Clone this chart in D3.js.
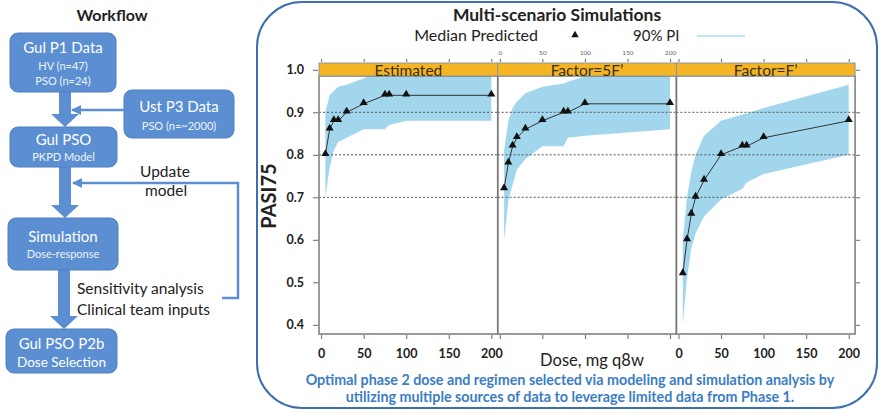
<!DOCTYPE html>
<html>
<head>
<meta charset="utf-8">
<script src="https://cdn.jsdelivr.net/npm/d3@7"></script>
<style>
	body { margin: 0; background: #fff; }
	text { font-family: Lato, "Open Sans", sans-serif; }
</style>
</head>
<body>
<div id="chart"></div>
<script>
// data
const doses = [5, 10, 15, 20, 30, 50, 75, 80, 100, 200];
const panelNames = ["Estimated", "Factor=5F\u2019", "Factor=F\u2019"];

const medEstimated = [0.80, 0.86, 0.88, 0.88, 0.90, 0.92, 0.94, 0.94, 0.94, 0.94];
const loEstimated = [0.70, 0.77, 0.81, 0.83, 0.84, 0.86, 0.86, 0.87, 0.88, 0.88];
const hiEstimated = [0.90, 0.94, 0.95, 0.96, 0.965, 0.98, 1.0, 1.0, 1.0, 1.0];

const med5F = [0.72, 0.78, 0.82, 0.84, 0.86, 0.88, 0.90, 0.90, 0.92, 0.92];
const lo5F = [0.60, 0.69, 0.73, 0.765, 0.79, 0.82, 0.82, 0.84, 0.845, 0.86];
const hi5F = [0.81, 0.88, 0.91, 0.925, 0.945, 0.96, 0.968, 0.972, 0.985, 1.0];

const medF = [0.52, 0.60, 0.66, 0.70, 0.74, 0.80, 0.82, 0.82, 0.84, 0.88];
const loF = [0.40, 0.51, 0.58, 0.615, 0.655, 0.695, 0.72, 0.735, 0.755, 0.80];
const hiF = [0.60, 0.70, 0.76, 0.80, 0.845, 0.88, 0.895, 0.897, 0.91, 0.965];

const yTicks = [0.4, 0.5, 0.6, 0.7, 0.8, 0.9, 1.0];
const xTicks = [0, 50, 100, 150, 200];
const refLines = [0.7, 0.8, 0.9];

const width = 880;
const height = 413;

const svg = d3.select("#chart")
	.append("svg")
	.attr("width", width)
	.attr("height", height);

// ---------- workflow (left) ----------
const boxBlue = "#5b8fd1";
const wf = svg.append("g");

wf.append("text")
	.attr("x", 112).attr("y", 21)
	.attr("text-anchor", "middle")
	.attr("font-size", 16).attr("font-weight", "bold")
	.attr("fill", "#222")
	.text("Workflow");

function box(x, y, w, h, lines) {
	wf.append("rect")
		.attr("x", x).attr("y", y).attr("width", w).attr("height", h)
		.attr("rx", 8)
		.attr("fill", boxBlue)
		.attr("stroke", "#4f7fbf").attr("stroke-width", 1);
	lines.forEach((l) => {
		wf.append("text")
			.attr("x", x + w / 2).attr("y", l.y)
			.attr("text-anchor", "middle")
			.attr("font-size", l.size)
			.attr("fill", l.size > 12 ? "#fff" : "#eef3fb")
			.text(l.t);
	});
}

function blockArrow(cx, y1, y2) {
	const sw = 6, hw = 14, hh = 13;
	const pts = [[cx - sw, y1], [cx + sw, y1], [cx + sw, y2 - hh], [cx + hw, y2 - hh],
		[cx, y2], [cx - hw, y2 - hh], [cx - sw, y2 - hh]];
	wf.append("polygon")
		.attr("points", pts.map((p) => p.join(",")).join(" "))
		.attr("fill", boxBlue);
}

blockArrow(65, 92, 127);
blockArrow(65, 167, 218);
blockArrow(64, 270, 329);

box(10, 33, 106, 59, [
	{ t: "Gul P1 Data", size: 15, y: 53 },
	{ t: "HV (n=47)", size: 11, y: 70 },
	{ t: "PSO (n=24)", size: 11, y: 85 }
]);
box(124, 90, 110, 48, [
	{ t: "Ust P3 Data", size: 15, y: 112 },
	{ t: "PSO (n=~2000)", size: 11, y: 130 }
]);
box(10, 127, 107, 40, [
	{ t: "Gul PSO", size: 15, y: 145 },
	{ t: "PKPD Model", size: 11, y: 161 }
]);
box(8, 218, 110, 52, [
	{ t: "Simulation", size: 15, y: 242 },
	{ t: "Dose-response", size: 11, y: 258 }
]);
box(6, 329, 111, 44, [
	{ t: "Gul PSO P2b", size: 15, y: 349 },
	{ t: "Dose Selection", size: 13.5, y: 367 }
]);

svg.append("defs").append("marker")
	.attr("id", "head")
	.attr("viewBox", "0 0 10 10")
	.attr("refX", 9).attr("refY", 5)
	.attr("markerWidth", 4).attr("markerHeight", 4)
	.attr("orient", "auto")
	.append("path")
	.attr("d", "M0,0 L10,5 L0,10 z")
	.attr("fill", boxBlue);

wf.append("path")
	.attr("d", "M124,110 L72,110")
	.attr("fill", "none").attr("stroke", boxBlue).attr("stroke-width", 2.5)
	.attr("marker-end", "url(#head)");
wf.append("path")
	.attr("d", "M222,298 L238,298 L238,183 L73,183")
	.attr("fill", "none").attr("stroke", boxBlue).attr("stroke-width", 2.5)
	.attr("marker-end", "url(#head)");

[["Update", 140, 177], ["model", 145, 196], ["Sensitivity analysis", 77, 294], ["Clinical team inputs", 77, 315]]
	.forEach((d) => {
		wf.append("text")
			.attr("x", d[1]).attr("y", d[2])
			.attr("font-size", 15.5)
			.attr("fill", "#222")
			.text(d[0]);
	});

// ---------- simulation chart (right) ----------
svg.append("rect")
	.attr("x", 257).attr("y", 2)
	.attr("width", 620).attr("height", 406)
	.attr("rx", 45)
	.attr("fill", "none")
	.attr("stroke", "#3f70ae")
	.attr("stroke-width", 2);

svg.append("text")
	.attr("x", 557).attr("y", 21)
	.attr("text-anchor", "middle")
	.attr("font-size", 17.5).attr("font-weight", "bold")
	.attr("fill", "#222")
	.text("Multi-scenario Simulations");

// legend
svg.append("text")
	.attr("x", 538).attr("y", 41)
	.attr("text-anchor", "end")
	.attr("font-size", 16).attr("fill", "#222")
	.text("Median Predicted");
svg.append("path")
	.attr("transform", "translate(575,35)")
	.attr("d", d3.symbol(d3.symbolTriangle).size(24))
	.attr("fill", "#111");
svg.append("text")
	.attr("x", 633).attr("y", 41)
	.attr("font-size", 15).attr("fill", "#222")
	.text("90% PI");
svg.append("line")
	.attr("x1", 697).attr("x2", 745)
	.attr("y1", 36).attr("y2", 36)
	.attr("stroke", "#a9dcef").attr("stroke-width", 1.5);

const panels = [
	{ name: panelNames[0], med: medEstimated, lo: loEstimated, hi: hiEstimated },
	{ name: panelNames[1], med: med5F, lo: lo5F, hi: hi5F },
	{ name: panelNames[2], med: medF, lo: loF, hi: hiF }
];

const panelLeft = 319;
const panelW = 178.7;
const plotTop = 76;
const plotBottom = 334;
const stripTop = 63;

const y = d3.scaleLinear().domain([0.3784, 0.9854]).range([plotBottom, plotTop]);

panels.forEach((p, i) => {
	const x0 = panelLeft + i * panelW;
	const x = d3.scaleLinear().domain([-2.5, 207.5]).range([x0, x0 + panelW]);
	const rows = doses.map((d, j) => ({ dose: d, med: p.med[j], lo: p.lo[j], hi: p.hi[j] }));
	const g = svg.append("g");

	g.append("clipPath").attr("id", "clip" + i)
		.append("rect")
		.attr("x", x0).attr("y", plotTop)
		.attr("width", panelW).attr("height", plotBottom - plotTop);

	// 90% PI band
	g.append("path")
		.datum(rows)
		.attr("clip-path", "url(#clip" + i + ")")
		.attr("fill", "#a2d6ed")
		.attr("d", d3.area()
			.x((d) => x(d.dose))
			.y0((d) => y(d.lo))
			.y1((d) => y(d.hi)));

	// dotted reference lines
	g.selectAll("line.ref")
		.data(refLines)
		.enter()
		.append("line")
		.attr("x1", x0).attr("x2", x0 + panelW)
		.attr("y1", (d) => y(d)).attr("y2", (d) => y(d))
		.attr("stroke", "#555")
		.attr("stroke-width", 1)
		.attr("stroke-dasharray", "2,2");

	// median line + triangles
	g.append("path")
		.datum(rows)
		.attr("fill", "none")
		.attr("stroke", "#333")
		.attr("stroke-width", 1)
		.attr("d", d3.line().x((d) => x(d.dose)).y((d) => y(d.med)));

	g.selectAll("path.tri")
		.data(rows)
		.enter()
		.append("path")
		.attr("transform", (d) => "translate(" + x(d.dose) + "," + (y(d.med) - 1) + ")")
		.attr("d", d3.symbol(d3.symbolTriangle).size(28))
		.attr("fill", "#111");

	// panel border
	g.append("rect")
		.attr("x", x0).attr("y", plotTop)
		.attr("width", panelW).attr("height", plotBottom - plotTop)
		.attr("fill", "none")
		.attr("stroke", "#7a7a7a")
		.attr("stroke-width", 1.5);

	// strip
	g.append("rect")
		.attr("x", x0).attr("y", stripTop)
		.attr("width", panelW).attr("height", plotTop - stripTop)
		.attr("fill", "#f5b522")
		.attr("stroke", "#8a97a8")
		.attr("stroke-width", 1);
	g.append("text")
		.attr("x", x0 + panelW / 2).attr("y", 75.5)
		.attr("text-anchor", "middle")
		.attr("font-size", 15.5)
		.attr("fill", "#3a3020")
		.text(p.name);

	// bottom axis
	const bottom = g.append("g")
		.attr("transform", "translate(0," + (plotBottom + 1) + ")")
		.call(d3.axisBottom(x).tickValues(xTicks).tickSize(4).tickPadding(10)
			.tickFormat(i === 1 ? "" : d3.format("d")));
	// top axis
	const top = g.append("g")
		.attr("transform", "translate(0," + (stripTop - 1) + ")")
		.call(d3.axisTop(x).tickValues(xTicks).tickSize(3).tickPadding(4)
			.tickFormat(i === 1 ? d3.format("d") : ""));
	[bottom, top].forEach((a) => {
		a.select(".domain").remove();
		a.selectAll("line").attr("stroke", "#666");
	});
	bottom.selectAll("text")
		.attr("font-size", 12.5).attr("font-weight", "bold").attr("fill", "#222")
		.attr("font-family", "Lato, 'Open Sans', sans-serif");
	top.selectAll("text")
		.attr("font-size", 6.5).attr("fill", "#666")
		.attr("font-family", "Lato, 'Open Sans', sans-serif");
});

// y axes
const left = svg.append("g")
	.attr("transform", "translate(" + (panelLeft - 1) + ",0)")
	.call(d3.axisLeft(y).tickValues(yTicks).tickSize(5).tickPadding(9).tickFormat(d3.format(".1f")));
const right = svg.append("g")
	.attr("transform", "translate(" + (panelLeft + 3 * panelW + 1) + ",0)")
	.call(d3.axisRight(y).tickValues(yTicks).tickSize(4).tickFormat(""));
[left, right].forEach((a) => {
	a.select(".domain").remove();
	a.selectAll("line").attr("stroke", "#666");
});
left.selectAll("text")
	.attr("font-size", 12.5).attr("font-weight", "bold").attr("fill", "#222")
	.attr("font-family", "Lato, 'Open Sans', sans-serif");

svg.append("text")
	.attr("transform", "translate(276,196) rotate(-90)")
	.attr("text-anchor", "middle")
	.attr("font-size", 20).attr("font-weight", "bold")
	.attr("fill", "#222")
	.text("PASI75");

svg.append("text")
	.attr("x", 592).attr("y", 366)
	.attr("text-anchor", "middle")
	.attr("font-size", 16.5).attr("fill", "#222")
	.text("Dose, mg q8w");

// caption
const caption = ["Optimal phase 2 dose and regimen selected via modeling and simulation analysis by",
	"utilizing multiple sources of data to leverage limited data from Phase 1."];
caption.forEach((c, i) => {
	svg.append("text")
		.attr("x", 570).attr("y", 385 + i * 17)
		.attr("text-anchor", "middle")
		.attr("font-size", 14.3).attr("font-weight", "bold")
		.attr("fill", "#3b7dc4")
		.text(c);
});
</script>
</body>
</html>
